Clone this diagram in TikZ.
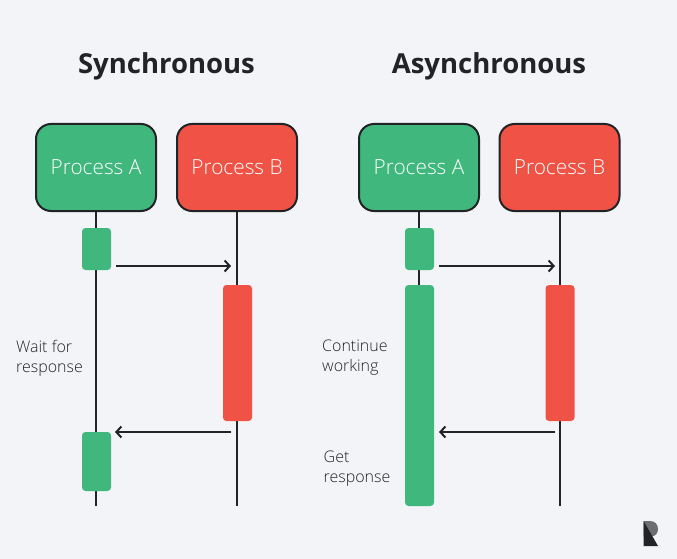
\documentclass[tikz,border=0pt]{standalone}
\usepackage{fontspec}
\setmainfont{Open Sans}
\newfontfamily\lightfont{Open Sans Light}
\usetikzlibrary{arrows.meta,positioning}
\definecolor{paper}{HTML}{F3F4F7}
\definecolor{ink}{HTML}{222326}
\definecolor{goA}{HTML}{3FB77D}
\definecolor{goB}{HTML}{F05345}
\tikzset{
	process/.style={rectangle, rounded corners=15pt, draw=ink, line width=2pt, minimum width=120pt, minimum height=87pt, text=white, font=\fontsize{20.8}{24}\lightfont},
	activity/.style={rectangle, rounded corners=3.5pt, minimum width=29pt, inner sep=0pt},
	title/.style={font=\fontsize{27.5}{34}\selectfont\bfseries, text=ink},
	note/.style={align=left, anchor=west, text=ink, inner sep=0pt, font=\fontsize{16}{20}\lightfont},
	lifeline/.style={draw=ink, line width=2pt},
	message/.style={draw=ink, line width=2pt, -{Straight Barb[length=5pt,width=11pt,line width=2pt]}}
}
\begin{document}
\begin{tikzpicture}[x=1pt,y=-1pt]
		\useasboundingbox [fill=paper] (0,0) rectangle (677,559);

		\draw (166.5,66.5) node [title] (titleS) {Synchronous};
		\draw (489,66.5) node [title] (titleA) {Asynchronous};

		\draw (96,167.5) node [process, fill=goA] (sA) {Process A};
		\draw (237,167.5) node [process, fill=goB] (sB) {Process B};
		\draw (419,167.5) node [process, fill=goA] (aA) {Process A};
		\draw (559.5,167.5) node [process, fill=goB] (aB) {Process B};

		\coordinate (sAend) at (96,506);
		\coordinate (sBend) at (237,506);
		\coordinate (aAend) at (419,506);
		\coordinate (aBend) at (559.5,506);

		\draw [lifeline]
		(sA) -- (sAend)
		(sB) -- (sBend)
		(aA) -- (aAend)
		(aB) -- (aBend);

		\draw (96.5,249) node [activity, fill=goA, minimum height=42pt] (s1) {};
		\draw (237.5,353) node [activity, fill=goB, minimum height=136pt] (s2) {};
		\draw (96.5,461.5) node [activity, fill=goA, minimum height=59pt] (s3) {};
		\draw (419.5,249) node [activity, fill=goA, minimum height=42pt] (a1) {};
		\draw (419.5,395.5) node [activity, fill=goA, minimum height=221pt] (a2) {};
		\draw (560,353) node [activity, fill=goB, minimum height=136pt] (a3) {};

		\coordinate (sOutA) at (116,266);
		\coordinate (sOutB) at (231,266);
		\coordinate (sBackB) at (231,432);
		\coordinate (sBackA) at (115,432);
		\coordinate (aOutA) at (439,266);
		\coordinate (aOutB) at (555,266);
		\coordinate (aBackB) at (555,432);
		\coordinate (aBackA) at (439,432);

		\draw [message] (sOutA) -- (sOutB);
		\draw [message] (sBackB) -- (sBackA);
		\draw [message] (aOutA) -- (aOutB);
		\draw [message] (aBackB) -- (aBackA);

		\draw (16,358) node [note] (wait) {Wait for\\response};
		\draw (322,358) node [note] (cont) {Continue\\working};
		\draw (323.5,469) node [note] (get) {Get\\response};

		% logo
		\fill [black!55!paper] (643.5,521) -- (650,521) .. controls (655,521) and (658,524.5) .. (658,529) .. controls (658,533) and (655.5,536) .. (652,536.5) -- (643.5,536.5) -- cycle;
		\fill [ink] (643.5,521) -- (658,546) -- (643.5,546) -- cycle;
	\end{tikzpicture}
\end{document}
